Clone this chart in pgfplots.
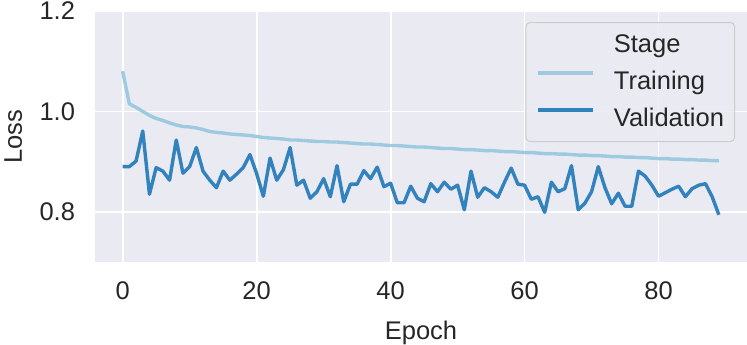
\documentclass[border=0pt]{standalone}
\usepackage{pgfplots}
\pgfplotsset{compat=1.18}
\usepackage{pgfplotstable}
\usepackage{fontspec}
\setmainfont{Liberation Sans}

\definecolor{sbbg}{HTML}{EAEAF2}
\definecolor{trainc}{HTML}{9ECAE1}
\definecolor{valc}{HTML}{3182BD}
\definecolor{txt}{HTML}{262626}
\definecolor{legedge}{HTML}{CCCCCC}

% epoch, training loss, validation loss
\pgfplotstableread{
epoch train val
0 1.080 0.890
1 1.015 0.890
2 1.008 0.901
3 1.000 0.961
4 0.992 0.835
5 0.986 0.888
6 0.982 0.881
7 0.977 0.863
8 0.973 0.943
9 0.970 0.877
10 0.969 0.890
11 0.967 0.928
12 0.964 0.881
13 0.960 0.863
14 0.958 0.848
15 0.957 0.881
16 0.955 0.863
17 0.954 0.875
18 0.953 0.888
19 0.952 0.914
20 0.950 0.876
21 0.948 0.831
22 0.947 0.907
23 0.946 0.863
24 0.945 0.884
25 0.943 0.928
26 0.943 0.853
27 0.942 0.863
28 0.941 0.827
29 0.940 0.840
30 0.940 0.866
31 0.939 0.830
32 0.939 0.892
33 0.938 0.820
34 0.937 0.855
35 0.936 0.855
36 0.935 0.882
37 0.935 0.866
38 0.934 0.889
39 0.933 0.850
40 0.932 0.857
41 0.932 0.818
42 0.931 0.818
43 0.930 0.851
44 0.929 0.827
45 0.929 0.820
46 0.928 0.856
47 0.927 0.840
48 0.926 0.859
49 0.926 0.845
50 0.925 0.853
51 0.924 0.804
52 0.924 0.881
53 0.923 0.829
54 0.922 0.848
55 0.922 0.840
56 0.921 0.829
57 0.920 0.859
58 0.920 0.887
59 0.919 0.855
60 0.918 0.853
61 0.918 0.825
62 0.917 0.830
63 0.916 0.799
64 0.916 0.859
65 0.915 0.840
66 0.915 0.846
67 0.914 0.892
68 0.913 0.804
69 0.913 0.817
70 0.912 0.840
71 0.912 0.890
72 0.911 0.848
73 0.910 0.816
74 0.910 0.837
75 0.909 0.811
76 0.909 0.811
77 0.908 0.881
78 0.908 0.871
79 0.907 0.853
80 0.906 0.831
81 0.906 0.838
82 0.905 0.845
83 0.905 0.851
84 0.904 0.830
85 0.904 0.846
86 0.903 0.853
87 0.903 0.856
88 0.902 0.830
89 0.902 0.794
}\losstable

\begin{document}
\begin{tikzpicture}[font=\fontsize{25.5bp}{30bp}\selectfont, text=txt]
\path[use as bounding box] (-95bp,-83bp) rectangle (652bp,262bp);
\begin{axis}[
    scale only axis,
    width=652bp, height=251bp,
    xmin=-4.13, xmax=93.2,
    ymin=0.7, ymax=1.2,
    xtick={0,20,40,60,80},
    ytick={0.8,1.0,1.2},
    /pgf/number format/assume math mode=true,
    yticklabel style={/pgf/number format/fixed, /pgf/number format/fixed zerofill,
        /pgf/number format/precision=1, xshift=-16.5bp},
    xticklabel style={yshift=-16.5bp},
    axis background/.style={fill=sbbg},
    axis line style={draw=none},
    major tick length=0pt,
    grid=major,
    major grid style={white, line width=1.8bp},
    xlabel={Epoch},
    ylabel={Loss},
    xlabel style={at={(axis description cs:0.5,0)}, anchor=base, yshift=-77bp},
    ylabel style={at={(axis description cs:-0.112,0.5)}, anchor=base},
    legend cell align=left,
    legend image code/.code={\draw[#1] (0bp,9bp) -- (55bp,9bp);},
    legend style={
        at={(axis description cs:0.9816,0.956)}, anchor=north east,
        draw=legedge, line width=1bp, rounded corners=4bp,
        fill=sbbg, fill opacity=0.8, text opacity=1,
        inner xsep=10.5bp, inner ysep=10.5bp,
        row sep=13bp, column sep=19bp,
        nodes={inner sep=0pt, text height=19bp, text depth=5bp},
    },
]
\addlegendimage{empty legend}
\addlegendentry{Stage}
\addplot[trainc, line width=3.4bp, line join=round] table[x=epoch, y=train] {\losstable};
\addlegendentry{Training}
\addplot[valc, line width=3.4bp, line join=round] table[x=epoch, y=val] {\losstable};
\addlegendentry{Validation}
\end{axis}
\end{tikzpicture}
\end{document}
